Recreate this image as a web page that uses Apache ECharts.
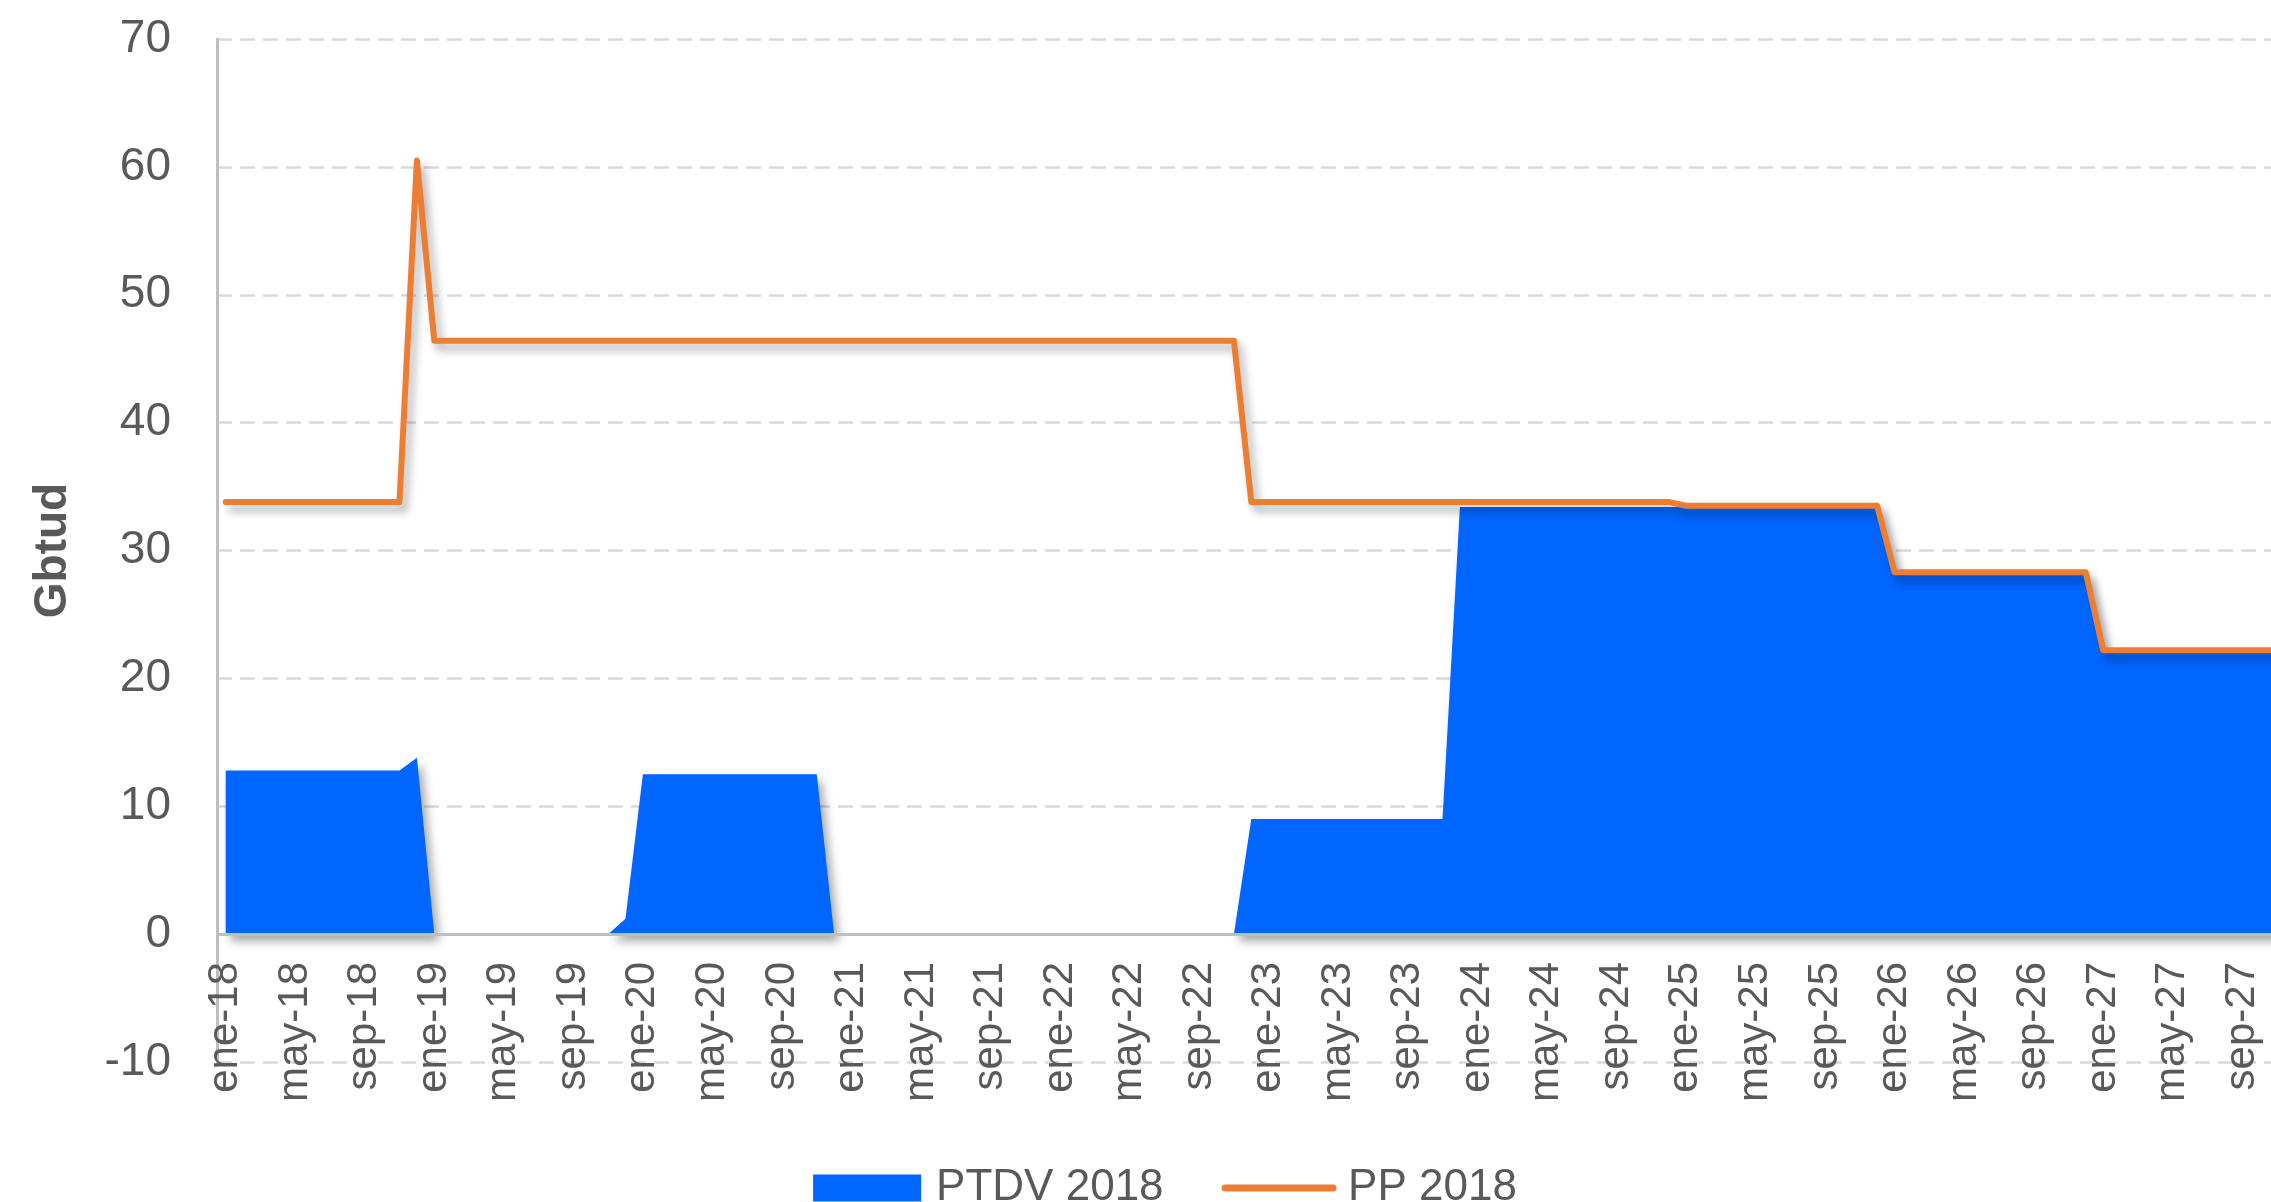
<!DOCTYPE html>
<html>
<head>
<meta charset="utf-8">
<script src="https://cdn.jsdelivr.net/npm/echarts@6/dist/echarts.min.js"></script>
<style>
html, body { margin: 0; padding: 0; overflow: hidden; background: #ffffff; }
#chart { width: 2330px; height: 1202px; }
</style>
</head>
<body>
<div id="chart"></div>
<script>
// Month abbreviations and years for category labels
var monthNames = ['ene','feb','mar','abr','may','jun','jul','ago','sep','oct','nov','dic'];
var years = ['18','19','20','21','22','23','24','25','26','27'];

// PTDV 2018 (area), one row per year ene..dic
var ptdv2018 = [
  12.8,12.8,12.8,12.8,12.8,12.8,12.8,12.8,12.8,12.8,12.8,13.8,   // 2018
  0,0,0,0,0,0,0,0,0,0,0,1.2,                                     // 2019
  12.5,12.5,12.5,12.5,12.5,12.5,12.5,12.5,12.5,12.5,12.5,0,      // 2020
  0,0,0,0,0,0,0,0,0,0,0,0,                                       // 2021
  0,0,0,0,0,0,0,0,0,0,0,9.0,                                     // 2022
  9.0,9.0,9.0,9.0,9.0,9.0,9.0,9.0,9.0,9.0,9.0,33.4,              // 2023
  33.4,33.4,33.4,33.4,33.4,33.4,33.4,33.4,33.4,33.4,33.4,33.4,   // 2024
  33.4,33.4,33.4,33.4,33.4,33.4,33.4,33.4,33.4,33.4,33.4,33.4,   // 2025
  28.2,28.2,28.2,28.2,28.2,28.2,28.2,28.2,28.2,28.2,28.2,28.2,   // 2026
  22.1,22.1,22.1,22.1,22.1,22.1,22.1,22.1,22.1,22.1,22.1,22.1    // 2027
];

// PP 2018 (line)
var pp2018 = [
  33.8,33.8,33.8,33.8,33.8,33.8,33.8,33.8,33.8,33.8,33.8,60.5,   // 2018
  46.4,46.4,46.4,46.4,46.4,46.4,46.4,46.4,46.4,46.4,46.4,46.4,   // 2019
  46.4,46.4,46.4,46.4,46.4,46.4,46.4,46.4,46.4,46.4,46.4,46.4,   // 2020
  46.4,46.4,46.4,46.4,46.4,46.4,46.4,46.4,46.4,46.4,46.4,46.4,   // 2021
  46.4,46.4,46.4,46.4,46.4,46.4,46.4,46.4,46.4,46.4,46.4,33.8,   // 2022
  33.8,33.8,33.8,33.8,33.8,33.8,33.8,33.8,33.8,33.8,33.8,33.8,   // 2023
  33.8,33.8,33.8,33.8,33.8,33.8,33.8,33.8,33.8,33.8,33.8,33.8,   // 2024
  33.5,33.5,33.5,33.5,33.5,33.5,33.5,33.5,33.5,33.5,33.5,33.5,   // 2025
  28.3,28.3,28.3,28.3,28.3,28.3,28.3,28.3,28.3,28.3,28.3,28.3,   // 2026
  22.2,22.2,22.2,22.2,22.2,22.2,22.2,22.2,22.2,22.2,22.2,22.2    // 2027
];

var yMin = -10, yMax = 70, yStep = 10;

var categories = [];
years.forEach(function (y) {
  monthNames.forEach(function (m) { categories.push(m + '-' + y); });
});

var FONT = '"Liberation Sans", Arial, sans-serif';
var TEXT = '#595959';

var chart = echarts.init(document.getElementById('chart'), null, { renderer: 'canvas' });
chart.setOption({
  backgroundColor: '#ffffff',
  animation: false,
  textStyle: { fontFamily: FONT },
  grid: { left: 217, right: 27, top: 39, bottom: 140, containLabel: false, outerBoundsMode: 'none' },
  legend: {
    top: 1161,
    left: 'center',
    itemWidth: 108,
    itemHeight: 27,
    itemGap: 58,
    textStyle: { fontFamily: FONT, fontSize: 44, color: TEXT, padding: [0, 0, 0, 10] },
    data: [
      { name: 'PTDV 2018', icon: 'rect', itemStyle: { color: '#0066FF', borderWidth: 0 } },
      { name: 'PP 2018', itemStyle: { opacity: 0 }, lineStyle: { color: '#ED7D31', width: 7, cap: 'round', shadowBlur: 0, shadowOffsetX: 0, shadowOffsetY: 0 } }
    ]
  },
  xAxis: {
    type: 'category',
    data: categories,
    boundaryGap: true,
    axisLine: { show: false, onZero: false },
    axisTick: { show: false },
    axisLabel: {
      interval: 3,
      rotate: 90,
      margin: -100,
      fontFamily: FONT,
      fontSize: 42,
      color: TEXT
    },
    splitLine: { show: false }
  },
  yAxis: {
    type: 'value',
    min: yMin,
    max: yMax,
    interval: yStep,
    name: 'Gbtud',
    nameLocation: 'middle',
    nameRotate: 90,
    nameGap: 141,
    nameTextStyle: { fontFamily: FONT, fontSize: 46, fontWeight: 'bold', color: TEXT },
    axisLine: { show: true, lineStyle: { color: '#BFBFBF', width: 3 } },
    axisTick: { show: false },
    axisLabel: { margin: 46, fontFamily: FONT, fontSize: 46, color: TEXT },
    splitLine: { show: true, lineStyle: { color: '#D9D9D9', width: 2.5, type: [15, 8] } }
  },
  series: [
    {
      name: 'PTDV 2018',
      type: 'line',
      data: ptdv2018,
      symbol: 'none',
      color: '#0066FF',
      lineStyle: { width: 0, opacity: 0 },
      areaStyle: {
        color: '#0066FF',
        opacity: 1,
        origin: 'auto',
        shadowColor: 'rgba(0,0,0,0.35)',
        shadowBlur: 10,
        shadowOffsetX: 5,
        shadowOffsetY: 7
      },
      markLine: {
        silent: true,
        symbol: ['none', 'none'],
        label: { show: false },
        lineStyle: { color: '#BFBFBF', width: 3, type: 'solid' },
        data: [{ yAxis: 0 }]
      },
      z: 2
    },
    {
      name: 'PP 2018',
      type: 'line',
      data: pp2018,
      symbol: 'none',
      color: '#ED7D31',
      lineStyle: {
        color: '#ED7D31',
        width: 6,
        cap: 'round',
        join: 'round',
        shadowColor: 'rgba(0,0,0,0.3)',
        shadowBlur: 8,
        shadowOffsetX: 5,
        shadowOffsetY: 7
      },
      z: 3
    }
  ]
});
</script>
</body>
</html>
